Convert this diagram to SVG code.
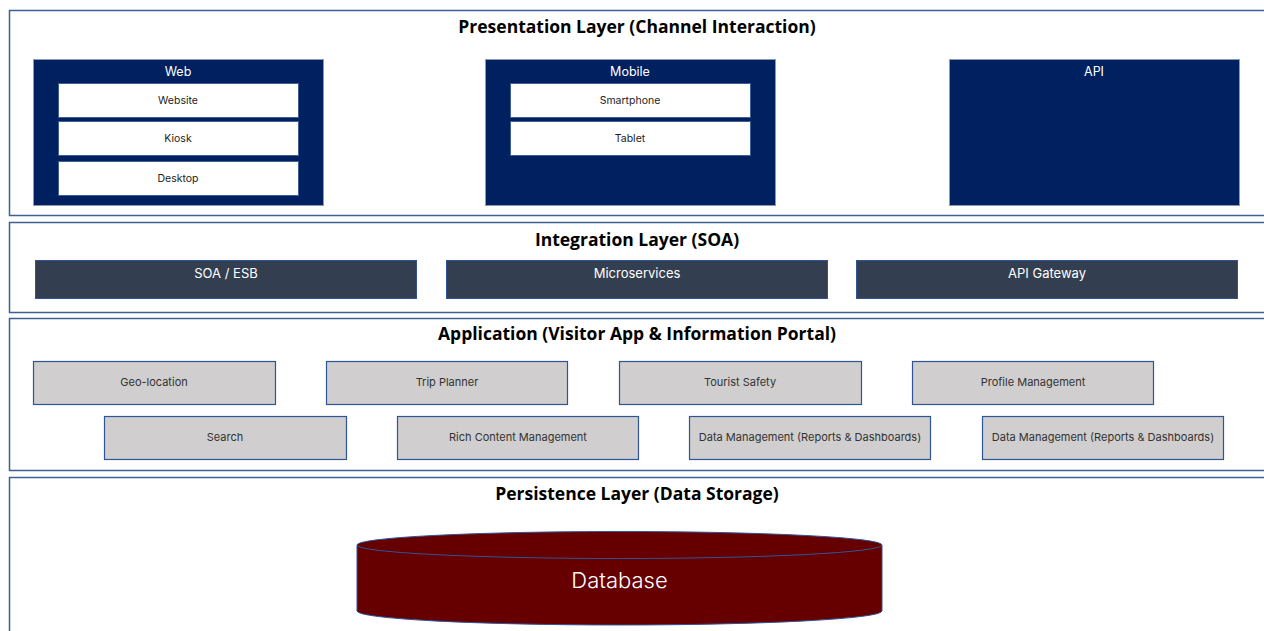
<svg xmlns="http://www.w3.org/2000/svg" width="1264" height="631" viewBox="0 0 1264 631">
<style>
.layer{fill:#ffffff;stroke:#3e5f94;stroke-width:1.5}
.title{font-family:"Open Sans","Liberation Sans",sans-serif;font-weight:bold;font-size:17.5px;fill:#000;text-anchor:middle}
.chan{fill:#002060;stroke:#8a9ab8;stroke-width:1}
.chanT{font-family:Inter,"Liberation Sans",sans-serif;font-size:12.5px;fill:#fff;text-anchor:middle}
.inner{fill:#fff;stroke:#3e5f94;stroke-width:1}
.innerT{font-family:Inter,"Liberation Sans",sans-serif;font-size:10.5px;fill:#222;text-anchor:middle}
.integ{fill:#333f50;stroke:#2f5597;stroke-width:1}
.integT{font-family:Inter,"Liberation Sans",sans-serif;font-size:13px;fill:#fff;text-anchor:middle}
.app{fill:#d0cece;stroke:#2f5597;stroke-width:1.2}
.appT{font-family:Inter,"Liberation Sans",sans-serif;font-size:11px;fill:#333;text-anchor:middle}
</style>
<rect width="1264" height="631" fill="#fff"/>

<g id="presentation-layer">
<rect class="layer" x="9.5" y="10.5" width="1260" height="205"/>
<text class="title" x="637" y="33">Presentation Layer (Channel Interaction)</text>
</g>
<g id="web">
<rect class="chan" x="33.5" y="59.5" width="290" height="146"/>
<text class="chanT" x="178" y="76">Web</text>
<g id="website"><rect class="inner" x="58.5" y="83.5" width="240" height="34"/><text class="innerT" x="178" y="104">Website</text></g>
<g id="kiosk"><rect class="inner" x="58.5" y="121.5" width="240" height="34"/><text class="innerT" x="178" y="142">Kiosk</text></g>
<g id="desktop"><rect class="inner" x="58.5" y="161.5" width="240" height="34"/><text class="innerT" x="178" y="182">Desktop</text></g>
</g>
<g id="mobile">
<rect class="chan" x="485.5" y="59.5" width="290" height="146"/>
<text class="chanT" x="630" y="76">Mobile</text>
<g id="smartphone"><rect class="inner" x="510.5" y="83.5" width="240" height="34"/><text class="innerT" x="630" y="104">Smartphone</text></g>
<g id="tablet"><rect class="inner" x="510.5" y="121.5" width="240" height="34"/><text class="innerT" x="630" y="142">Tablet</text></g>
</g>
<g id="api">
<rect class="chan" x="949.5" y="59.5" width="290" height="146"/>
<text class="chanT" x="1094" y="76">API</text>
</g>

<g id="integration-layer">
<rect class="layer" x="9.5" y="222.5" width="1260" height="90"/>
<text class="title" x="637" y="246">Integration Layer (SOA)</text>
</g>
<g id="soa-esb"><rect class="integ" x="35.5" y="260.5" width="381" height="38"/><text class="integT" x="226" y="278">SOA / ESB</text></g>
<g id="microservices"><rect class="integ" x="446.5" y="260.5" width="381" height="38"/><text class="integT" x="637" y="278">Microservices</text></g>
<g id="api-gateway"><rect class="integ" x="856.5" y="260.5" width="381" height="38"/><text class="integT" x="1047" y="278">API Gateway</text></g>

<g id="application-layer">
<rect class="layer" x="9.5" y="318.5" width="1260" height="152"/>
<text class="title" x="637" y="340">Application (Visitor App &amp; Information Portal)</text>
</g>
<g id="geo-location"><rect class="app" x="33.5" y="361.5" width="242" height="43"/><text class="appT" x="154" y="386">Geo-location</text></g>
<g id="trip-planner"><rect class="app" x="326.5" y="361.5" width="241" height="43"/><text class="appT" x="447" y="386">Trip Planner</text></g>
<g id="tourist-safety"><rect class="app" x="619.5" y="361.5" width="242" height="43"/><text class="appT" x="740" y="386">Tourist Safety</text></g>
<g id="profile-management"><rect class="app" x="912.5" y="361.5" width="241" height="43"/><text class="appT" x="1033" y="386">Profile Management</text></g>
<g id="search"><rect class="app" x="104.5" y="416.5" width="242" height="43"/><text class="appT" x="225" y="441">Search</text></g>
<g id="rich-content-management"><rect class="app" x="397.5" y="416.5" width="241" height="43"/><text class="appT" x="518" y="441">Rich Content Management</text></g>
<g id="data-management-1"><rect class="app" x="689.5" y="416.5" width="241" height="43"/><text class="appT" x="810" y="441">Data Management (Reports &amp; Dashboards)</text></g>
<g id="data-management-2"><rect class="app" x="982.5" y="416.5" width="241" height="43"/><text class="appT" x="1103" y="441">Data Management (Reports &amp; Dashboards)</text></g>

<g id="persistence-layer">
<rect class="layer" x="9.5" y="477.5" width="1260" height="160"/>
<text class="title" x="637" y="500">Persistence Layer (Data Storage)</text>
</g>
<g id="database">
<path d="M357,545 L357,611 A262.5,14 0 0 0 882,611 L882,545 Z" fill="#660000" stroke="#2f5597" stroke-width="1"/>
<ellipse cx="619.5" cy="545" rx="262.5" ry="13.5" fill="#660000" stroke="#2f5597" stroke-width="1"/>
<text x="619.5" y="588" font-family="Inter,'Liberation Sans',sans-serif" font-size="22" font-weight="300" fill="#fff" text-anchor="middle">Database</text>
</g>
<g id="connectors"></g>
</svg>
